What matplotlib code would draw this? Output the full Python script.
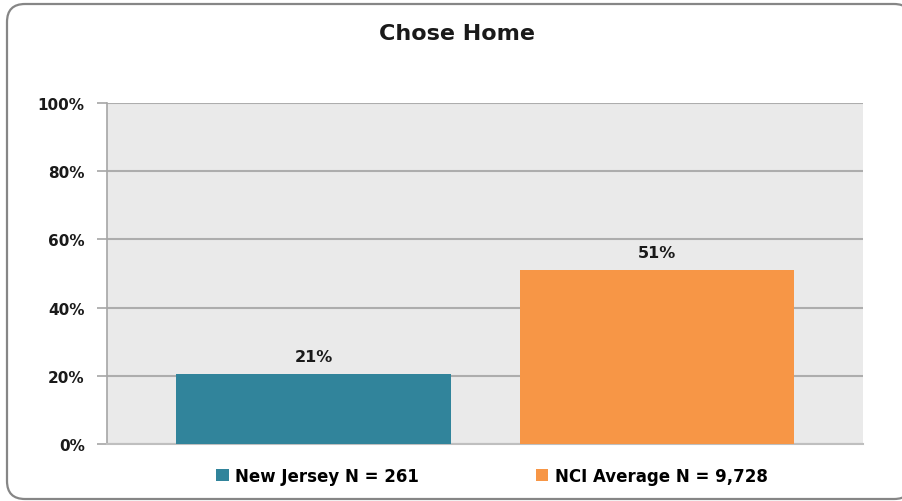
import matplotlib.pyplot as plt
from matplotlib.patches import FancyBboxPatch
from matplotlib.transforms import IdentityTransform
from matplotlib.ticker import PercentFormatter

title = 'Chose Home'
series = ['New Jersey N = 261', 'NCI Average N = 9,728']
values = [0.205, 0.51]
labels = ['21%', '51%']
colors = ['#31849B', '#F79646']
yticks = [0, 0.2, 0.4, 0.6, 0.8, 1.0]

plt.rcParams['font.family'] = ['DejaVu Sans']

fig = plt.figure(figsize=(9.03, 5.02), dpi=100)
# rounded outer frame, in pixels
frame = FancyBboxPatch((7, 2), 905, 495,
                       boxstyle='round,pad=0,rounding_size=18',
                       transform=IdentityTransform(), facecolor='white',
                       edgecolor='#868686', linewidth=1.6, zorder=-1)
fig.patches.append(frame)

ax = fig.add_axes([107 / 903, 1 - 445 / 502, 756 / 903, 341 / 502])
ax.set_facecolor('#EAEAEA')
for i, (v, c, s) in enumerate(zip(values, colors, series)):
    ax.bar(i, v, width=0.8, color=c, label=s, zorder=3)
    ax.text(i, v + 0.03, labels[i], ha='center', va='bottom',
            fontsize=11.5, fontweight='bold', color='#1a1a1a')

ax.set_xlim(-0.601, 1.6)
ax.set_ylim(0, 1.0)
ax.set_yticks(yticks)
ax.yaxis.set_major_formatter(PercentFormatter(1.0, decimals=0))
ax.set_xticks([])
ax.grid(axis='y', color='#ADADAD', linewidth=1.5, zorder=1)
for sp in ['top', 'right']:
    ax.spines[sp].set_visible(False)
ax.spines['left'].set_color('#A6A6A6')
ax.spines['bottom'].set_color('#BFBFBF')
ax.spines['left'].set_linewidth(1.2)
ax.spines['bottom'].set_linewidth(1.5)
ax.tick_params(axis='y', length=7, color='#A6A6A6', width=1.2, pad=9,
               labelsize=11, labelcolor='#1a1a1a')
for t in ax.get_yticklabels():
    t.set_fontweight('bold')

fig.text(457 / 903, 1 - 34 / 502, title, ha='center', va='center',
         fontsize=16, fontweight='bold', color='#1a1a1a')

leg = fig.legend(loc='center', bbox_to_anchor=(492 / 903, 1 - 477 / 502), ncol=2,
                 frameon=False, handlelength=0.75, handleheight=0.75,
                 handletextpad=0.4, columnspacing=7,
                 prop={'weight': 'bold', 'size': 12})

fig.savefig('out.png', dpi=100)
